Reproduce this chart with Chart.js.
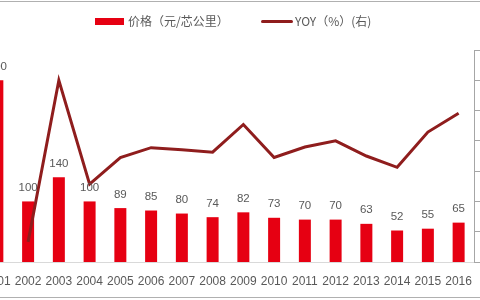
<!DOCTYPE html>
<html><head><meta charset="utf-8">
<script src="https://cdn.jsdelivr.net/npm/chart.js@4"></script>
<style>
html,body{margin:0;padding:0;width:480px;height:300px;overflow:hidden;background:#fff;position:relative;}
#wrap{position:absolute;left:-28px;top:0;width:542px;height:300px;}
.lg{position:absolute;font-family:"Noto Sans CJK SC","Noto Sans",sans-serif;font-size:12px;color:#595959;line-height:14px;white-space:nowrap;}
.sw{position:absolute;}
.rule{position:absolute;left:0;width:480px;height:1px;background:#b0b0b0;}
</style></head><body>
<div class="rule" style="top:1px"></div>
<div class="rule" style="top:297px"></div>
<div id="wrap"><canvas id="c" width="542" height="300"></canvas></div>
<div class="sw" style="left:95px;top:18px;width:29px;height:7px;background:#e60012;"></div>
<div class="lg" style="left:128px;top:14px;">价格（元/芯公里）</div>
<div class="sw" style="left:261px;top:20px;width:32px;height:3px;background:#8f1d1d;border-radius:2px;"></div>
<div class="lg" style="left:295px;top:14px;">YOY（%）(右)</div>
<script>
const years = ['2001','2002','2003','2004','2005','2006','2007','2008','2009','2010','2011','2012','2013','2014','2015','2016'];
const price = [300,100,140,100,89,85,80,74,82,73,70,70,63,52,55,65];
const yoy = [null,-66.7,40,-28.6,-11,-4.5,-5.9,-7.5,10.8,-11,-4.1,0,-10,-17.5,5.8,18.2];
const priceTicks = [0,50,100,150,200,250,300,350];
const yoyTicks = [-80,-60,-40,-20,0,20,40,60];

const labelPlugin = {
  id:'barLabels',
  afterDatasetsDraw(chart){
    const ctx = chart.ctx;
    const meta = chart.getDatasetMeta(1);
    ctx.save();
    ctx.font = '11.5px "Liberation Sans", Arial, sans-serif';
    ctx.fillStyle = '#595959';
    ctx.textAlign = 'center';
    ctx.textBaseline = 'bottom';
    meta.data.forEach((el,i)=>{
      ctx.fillText(String(price[i]), el.x, el.y - 8);
    });
    ctx.restore();
  }
};

new Chart(document.getElementById('c'), {
  data:{
    labels: years,
    datasets:[
      {type:'line', label:'YOY（%）(右)', data: yoy, yAxisID:'y1', borderColor:'#8f1d1d', borderWidth:3, pointRadius:0, tension:0, spanGaps:false, order:0},
      {type:'bar', label:'价格（元/芯公里）', data: price, yAxisID:'y', backgroundColor:'#e60012', barPercentage:0.78, categoryPercentage:0.5, order:1}
    ]
  },
  options:{
    responsive:false, animation:false,
    layout:{padding:{top:50,left:0,right:0,bottom:0}},
    plugins:{legend:{display:false}, tooltip:{enabled:false}},
    scales:{
      x:{
        offset:true,
        grid:{display:false, drawTicks:false},
        border:{display:true, color:'#d9d9d9', width:1},
        ticks:{color:'#595959', font:{family:'"Liberation Sans", Arial, sans-serif', size:12}, padding:12, maxRotation:0, autoSkip:false},
        afterFit(s){ s.height = 38; }
      },
      y:{
        display:false, min:0, max:350,
        afterBuildTicks(s){ s.ticks = priceTicks.map(v=>({value:v})); }
      },
      y1:{
        position:'right', min:-80, max:60,
        afterBuildTicks(s){ s.ticks = yoyTicks.map(v=>({value:v})); },
        grid:{drawOnChartArea:false, drawTicks:true, tickLength:6, color:'#a6a6a6'},
        border:{display:true, color:'#a6a6a6', width:1},
        ticks:{color:'#595959', font:{family:'"Liberation Sans", Arial, sans-serif', size:12}, callback:v=>v+'%'},
        afterFit(s){ s.width = 40; }
      }
    }
  },
  plugins:[labelPlugin]
});
</script>
</body></html>
